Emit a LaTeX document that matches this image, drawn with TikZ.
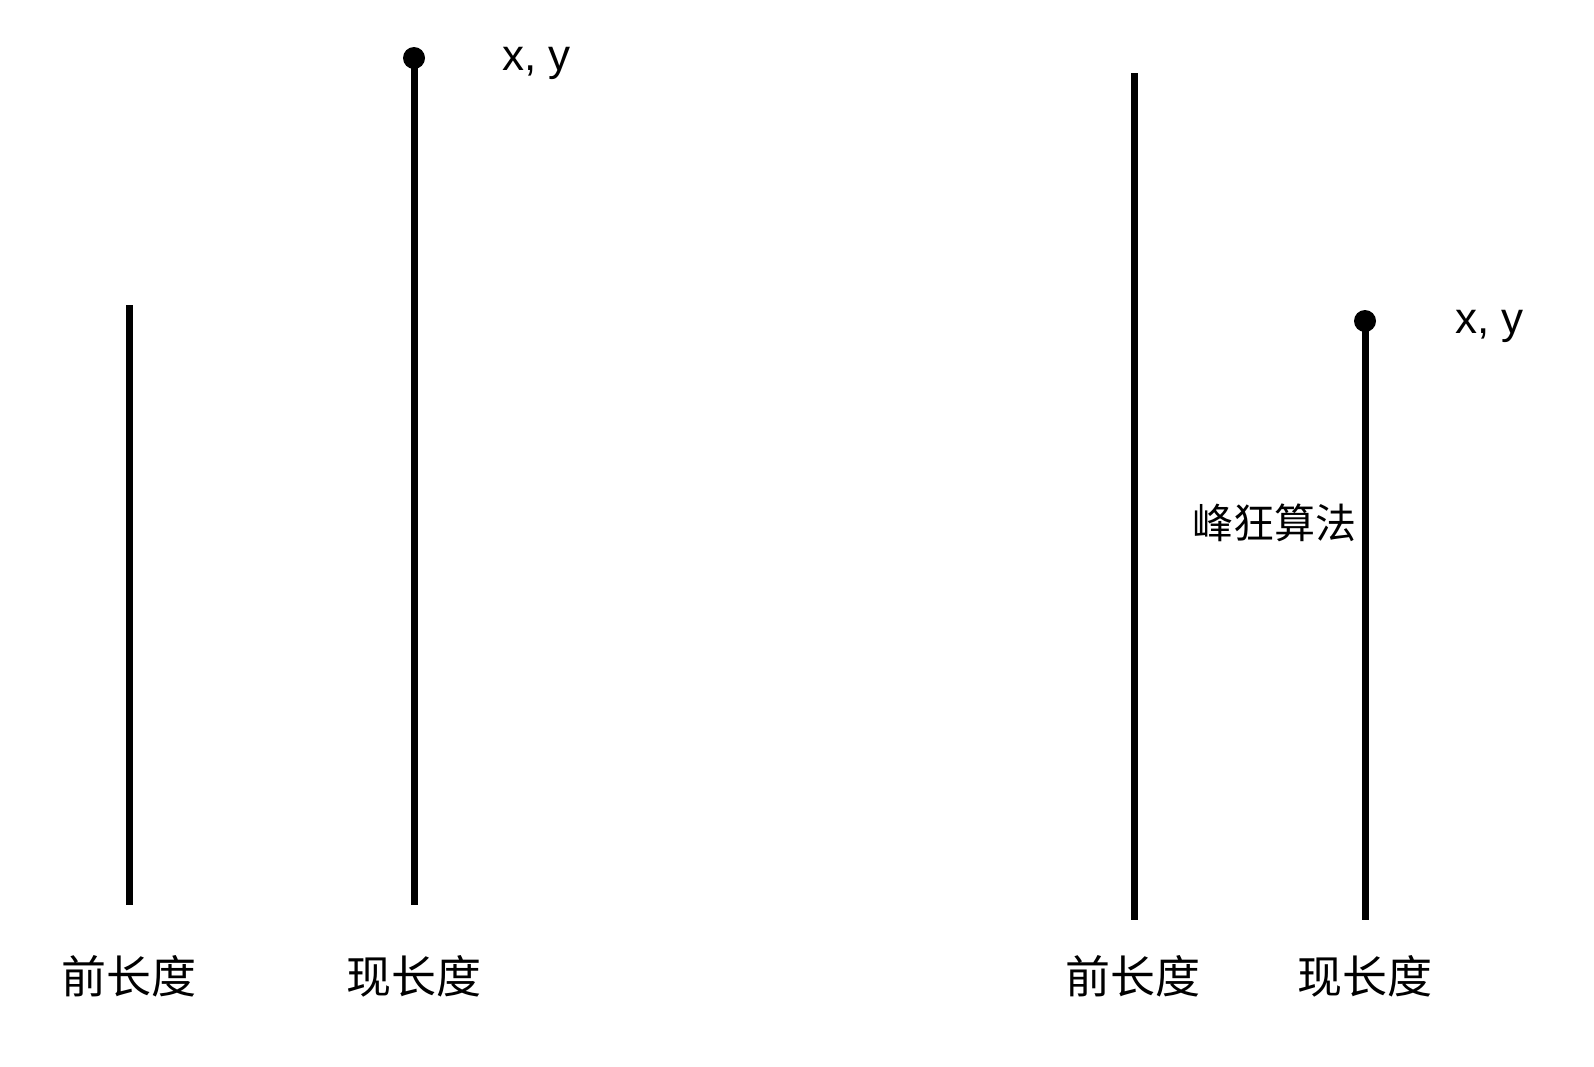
\documentclass[tikz,border=0pt]{standalone}
\usepackage{fontspec}
\setmainfont{Liberation Sans}
\newfontfamily\cjk{Noto Sans CJK SC}
\usepackage{tikz}
\usetikzlibrary{positioning}

\begin{document}
\begin{tikzpicture}[x=1pt,y=-1pt,
  bar/.style={line width=7pt,color=black},
  tipdot/.style={circle,fill=black,inner sep=0pt,minimum size=22pt},
  lenlabel/.style={font=\cjk\fontsize{45}{49}\selectfont,inner sep=0pt},
  algolabel/.style={font=\cjk\fontsize{41}{45}\selectfont,inner sep=0pt},
  xylabel/.style={font=\fontsize{44}{48}\selectfont,inner sep=0pt,anchor=base west}
]
\useasboundingbox (0,0) rectangle (1594,1066);

% Left pair.
\coordinate (prevtopL) at (129,305);
\coordinate (prevbotL) at (129,905);
\node[tipdot] (curdotL) at (414,58) {};
\coordinate (curbotL) at (414,905);
\draw[bar] (prevtopL)--(prevbotL);
\draw[bar] (curdotL.center)--(curbotL);
\node[xylabel] (xyL) at (502,70) {x, y};
\node[lenlabel] (prevlabL) at (129,976) {前长度};
\node[lenlabel] (curlabL) at (414,976) {现长度};

% Right pair.
\coordinate (prevtopR) at (1134,73);
\coordinate (prevbotR) at (1134,920);
\node[tipdot] (curdotR) at (1365,321) {};
\coordinate (curbotR) at (1365,920);
\draw[bar] (prevtopR)--(prevbotR);
\draw[bar] (curdotR.center)--(curbotR);
\node[xylabel] (xyR) at (1455,333) {x, y};
\node[algolabel,anchor=east] (algo) at (1357,523) {峰狂算法};
\node[lenlabel] (prevlabR) at (1133,976) {前长度};
\node[lenlabel] (curlabR) at (1365,976) {现长度};
\end{tikzpicture}
\end{document}
